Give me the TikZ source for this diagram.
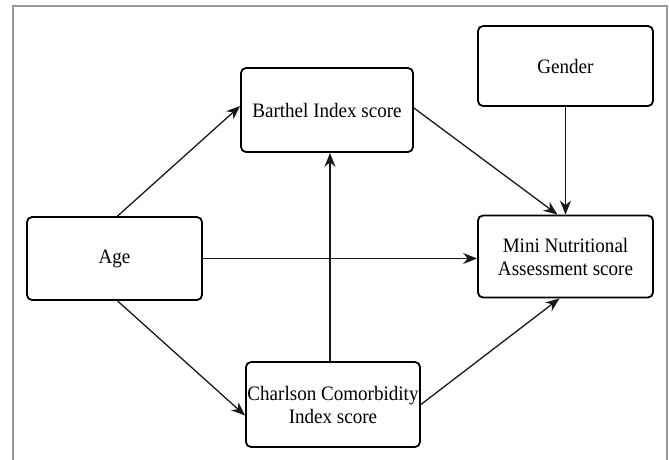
\documentclass[tikz,border=0pt]{standalone}
\usepackage{fontspec}
\setmainfont[FakeStretch=0.93]{Liberation Serif}
\usetikzlibrary{arrows.meta,calc}
\begin{document}
\begin{tikzpicture}[x=1pt,y=-1pt,
  box/.style={draw=black,line width=1.8pt,rounded corners=5pt,align=center,inner sep=0pt,
    font=\fontsize{20.5}{23}\selectfont},
  arr/.style={draw=black!90,line width=1.3pt,-{Stealth[length=14pt,width=11pt]}}]
\useasboundingbox (0,0) rectangle (669,459);
\draw[gray!80,line width=1.2pt] (13,480) -- (13,6) -- (667,6) -- (667,480);
\node[box,minimum width=175pt,minimum height=80pt] (gender) at (565.5,66) {Gender};
\node[box,minimum width=172pt,minimum height=84pt] (barthel) at (327,110) {Barthel Index score};
\node[box,minimum width=175pt,minimum height=83pt] (age) at (114.5,258.5) {Age};
\node[box,minimum width=175pt,minimum height=82pt] (mna) at (565.5,256.5) {Mini Nutritional\\Assessment score};
\node[box,minimum width=174pt,minimum height=85pt] (charlson) at (333,404.5) {Charlson Comorbidity\\Index score};
\draw[arr] ([xshift=3pt]age.north) -- ([yshift=4pt]barthel.west);
\draw[arr] ([yshift=2pt]barthel.east) -- ([xshift=-8pt]mna.north);
\draw[arr] (gender.south) -- (mna.north);
\draw[arr] (age.east) -- (mna.west |- age.east);
\draw[arr] ([xshift=3pt]age.south) -- ([yshift=-11pt]charlson.west);
\draw[arr] ([xshift=-3pt]charlson.north) -- ([xshift=-3pt]charlson.north |- barthel.south);
\draw[arr] (charlson.east) -- ([xshift=-6pt]mna.south);
\end{tikzpicture}
\end{document}
